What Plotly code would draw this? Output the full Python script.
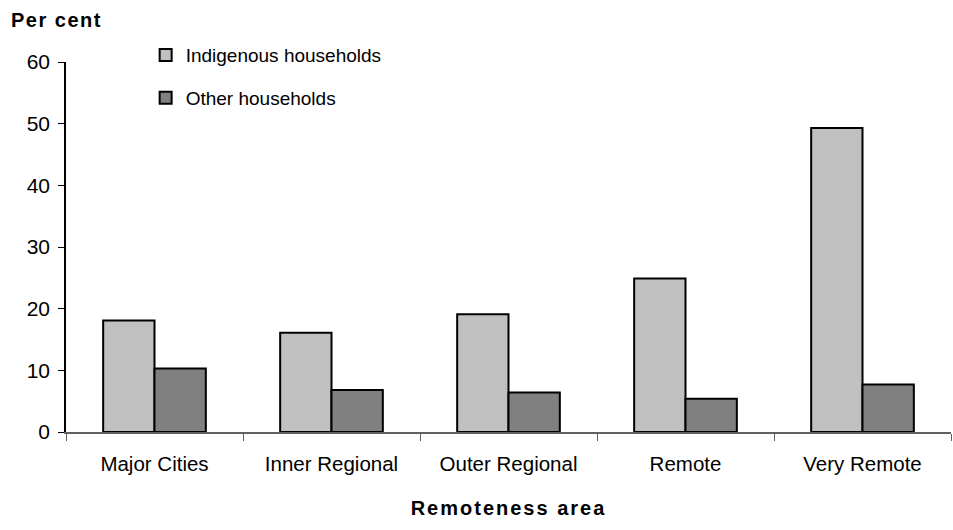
import plotly.graph_objects as go

categories = ["Major Cities", "Inner Regional", "Outer Regional", "Remote", "Very Remote"]
indigenous = [18.1, 16.1, 19.1, 24.9, 49.3]
other = [10.3, 6.8, 6.4, 5.4, 7.7]
y_ticks = [0, 10, 20, 30, 40, 50, 60]

FONT = "Liberation Sans, Arial, sans-serif"

fig = go.Figure()
fig.add_trace(go.Bar(name="Indigenous households", x=categories, y=indigenous,
                     marker=dict(color="#c0c0c0", line=dict(color="#000000", width=2)),
                     legendgroup="a"))
fig.add_trace(go.Bar(name="Other households", x=categories, y=other,
                     marker=dict(color="#808080", line=dict(color="#000000", width=2)),
                     legendgroup="b"))

fig.update_layout(
    width=953, height=530,
    margin=dict(l=66, r=2, t=62, b=98),
    paper_bgcolor="white", plot_bgcolor="white",
    barmode="group", bargap=0.42, bargroupgap=0,
    font=dict(family=FONT, size=20, color="#000000"),
    showlegend=True,
    legend=dict(x=0.09, y=1.07, xanchor="left", yanchor="top",
                bgcolor="rgba(0,0,0,0)", tracegroupgap=15,
                font=dict(size=19), itemwidth=30),
    xaxis=dict(
        automargin=False,
        showline=True, linecolor="#606060", linewidth=1.5,
        ticks="outside", tickson="boundaries", ticklen=7, tickcolor="#606060",
        tickfont=dict(size=20.5), ticklabelstandoff=13,
        title=dict(text="<b><span style='letter-spacing:2px'>Remoteness area</span></b>",
                   font=dict(size=20), standoff=27),
        showgrid=False,
    ),
    yaxis=dict(
        automargin=False,
        range=[0, 60], tickvals=y_ticks,
        showline=True, linecolor="#000000", linewidth=1.5,
        ticks="outside", ticklen=6, tickcolor="#000000",
        tickfont=dict(size=21), ticklabelstandoff=4, showgrid=False, zeroline=False,
    ),
    annotations=[dict(text="<b><span style='letter-spacing:1.5px'>Per cent</span></b>",
                      xref="paper", yref="paper",
                      x=-0.064, y=1.113, xanchor="left", yanchor="middle",
                      showarrow=False, font=dict(size=20))],
)

fig.write_html("out.html", config={"displayModeBar": False},
               post_script="document.body.style.margin='0';document.body.style.overflow='hidden';")
